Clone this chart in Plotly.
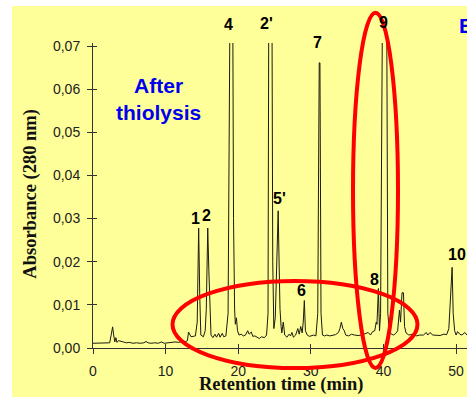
import plotly.graph_objects as go

# Retention time (min) and absorbance (280 nm)
time_min = [
    0.0, 0.5, 1.0, 1.5, 2.0, 2.3, 2.5, 2.7, 2.85, 3.0, 3.15, 3.3, 3.5, 3.8, 4.2, 4.6,
    5.0, 5.5, 6.0, 6.5, 7.0, 7.3, 7.6, 8.0, 8.5, 9.0, 9.4, 9.8, 10.3, 10.8, 11.3, 11.8,
    12.3, 12.8, 13.0, 13.15, 13.3, 13.5, 13.8, 14.1, 14.35, 14.45, 14.55, 14.7, 14.85,
    15.2, 15.45, 15.6, 15.8, 15.95, 16.1, 16.25, 16.5, 16.8, 17.0, 17.3, 17.5, 17.8,
    18.0, 18.3, 18.6, 18.75, 18.85, 19.25, 19.35, 19.5, 19.6, 19.75, 19.9, 20.1, 20.4,
    20.7, 21.0, 21.3, 21.5, 21.8, 22.0, 22.3, 22.6, 22.9, 23.2, 23.6, 23.9, 24.1, 24.2,
    24.65, 24.75, 24.9, 25.1, 25.3, 25.5, 25.6, 25.75, 25.9, 26.0, 26.2, 26.4, 26.7,
    27.0, 27.2, 27.4, 27.6, 27.9, 28.2, 28.4, 28.6, 28.8, 28.95, 29.1, 29.25, 29.5,
    29.8, 30.1, 30.4, 30.7, 30.95, 31.15, 31.25, 31.4, 31.6, 31.9, 32.2, 32.6, 33.0,
    33.4, 33.8, 34.0, 34.2, 34.4, 34.6, 34.8, 35.2, 35.6, 36.0, 36.5, 37.0, 37.5, 37.9,
    38.2, 38.5, 38.8, 39.0, 39.1, 39.3, 39.45, 39.6, 39.85, 40.45, 40.6, 40.8, 41.1,
    41.4, 41.7, 41.95, 42.2, 42.35, 42.55, 42.75, 42.9, 43.1, 43.5, 44.0, 44.5, 45.0,
    45.5, 45.9, 46.1, 46.4, 46.8, 47.3, 47.8, 48.3, 48.7, 49.0, 49.2, 49.45, 49.6,
    49.8, 50.0, 50.2, 50.5, 50.8, 51.2, 51.5,
]
absorbance = [
    0.0011, 0.0011, 0.0011, 0.0011, 0.0011, 0.0012, 0.0030, 0.0049, 0.0030, 0.0014,
    0.0024, 0.0013, 0.0017, 0.0015, 0.0014, 0.0012, 0.0013, 0.0011, 0.0012, 0.0011,
    0.0012, 0.0015, 0.0012, 0.0011, 0.0012, 0.0011, 0.0014, 0.0011, 0.0012, 0.0014,
    0.0014, 0.0013, 0.0015, 0.0015, 0.0017, 0.0037, 0.0033, 0.0026, 0.0027, 0.0028,
    0.0060, 0.0210, 0.0278, 0.0120, 0.0030, 0.0026, 0.0040, 0.0090, 0.0278, 0.0180,
    0.0070, 0.0030, 0.0024, 0.0032, 0.0025, 0.0034, 0.0025, 0.0034, 0.0026, 0.0028,
    0.0080, 0.0500, 0.0760, 0.0760, 0.0300, 0.0090, 0.0055, 0.0070, 0.0040, 0.0030,
    0.0032, 0.0028, 0.0030, 0.0040, 0.0032, 0.0037, 0.0027, 0.0028, 0.0024, 0.0022,
    0.0026, 0.0024, 0.0030, 0.0080, 0.0760, 0.0760, 0.0200, 0.0045, 0.0070, 0.0180,
    0.0318, 0.0220, 0.0090, 0.0050, 0.0035, 0.0060, 0.0030, 0.0025, 0.0032, 0.0028,
    0.0036, 0.0025, 0.0030, 0.0045, 0.0032, 0.0050, 0.0035, 0.0060, 0.0110, 0.0040,
    0.0030, 0.0027, 0.0028, 0.0030, 0.0028, 0.0080, 0.0661, 0.0661, 0.0080, 0.0030,
    0.0028, 0.0030, 0.0028, 0.0030, 0.0031, 0.0036, 0.0045, 0.0060, 0.0045, 0.0040,
    0.0030, 0.0028, 0.0032, 0.0030, 0.0029, 0.0030, 0.0033, 0.0036, 0.0030, 0.0038,
    0.0040, 0.0060, 0.0055, 0.0138, 0.0040, 0.0080, 0.0760, 0.0760, 0.0080, 0.0040,
    0.0032, 0.0030, 0.0034, 0.0040, 0.0088, 0.0060, 0.0128, 0.0128, 0.0050, 0.0035,
    0.0030, 0.0032, 0.0028, 0.0030, 0.0030, 0.0036, 0.0030, 0.0036, 0.0030, 0.0030,
    0.0029, 0.0032, 0.0031, 0.0045, 0.0100, 0.0187, 0.0080, 0.0040, 0.0030, 0.0038,
    0.0032, 0.0030, 0.0036, 0.0030,
]

# Peak labels: text, retention time, vertical label position (paper units)
peak_labels = ["1", "2", "4", "2'", "5'", "6", "7", "8", "9", "10"]
peak_label_time = [14.05, 15.66, 18.64, 23.86, 25.66, 28.75, 30.95, 38.75, 39.99, 50.1]
peak_label_y = [0.423, 0.436, 1.062, 1.065, 0.491, 0.188, 1.001, 0.223, 1.067, 0.305]

x_ticks = [0, 10, 20, 30, 40, 50]
y_ticks = [0.00, 0.01, 0.02, 0.03, 0.04, 0.05, 0.06, 0.07]

X_RANGE = [0, 51.5]
Y_RANGE = [0, 0.0707]

fig = go.Figure()
fig.add_trace(go.Scatter(x=time_min, y=absorbance, mode="lines",
                         line=dict(color="#1a1a10", width=1), showlegend=False,
                         hoverinfo="skip"))
fig.add_trace(go.Scatter(x=[None], y=[None], xaxis="x2", yaxis="y2",
                         showlegend=False, hoverinfo="skip"))

tick_font = dict(family="Liberation Sans, Arial", size=14, color="#222")
title_font = dict(family="Liberation Serif, Times New Roman", size=18.5, color="#111")

annotations = []
for txt, t, yp in zip(peak_labels, peak_label_time, peak_label_y):
    annotations.append(dict(text="<b>%s</b>" % txt, x=t, y=yp, xref="x", yref="paper",
                            xanchor="center", yanchor="middle", showarrow=False,
                            font=dict(family="Liberation Sans, Arial", size=16, color="#000")))
annotations += [
    dict(text="<b>After<br>thiolysis</b>", x=0.174, y=0.816, xref="paper", yref="paper",
         showarrow=False, xanchor="center", yanchor="middle",
         font=dict(family="Liberation Sans, Arial", size=21, color="#0000EE")),
    dict(text="<b>B</b>", x=0.973, y=1.059, xref="paper", yref="paper",
         showarrow=False, xanchor="left", yanchor="middle",
         font=dict(family="Liberation Sans, Arial", size=21, color="#0000EE")),
    dict(text="<b>Retention time (min)</b>", x=0.504, y=-0.12, xref="paper", yref="paper",
         showarrow=False, xanchor="center", yanchor="middle", font=title_font),
    dict(text="<b>Absorbance (280 nm)</b>", x=-0.168, y=0.5065, xref="paper", yref="paper",
         showarrow=False, xanchor="center", yanchor="middle", textangle=-90, font=title_font),
]

shapes = [
    dict(type="rect", xref="paper", yref="paper", x0=-0.2166, x1=1.05, y0=-0.2, y1=1.121,
         fillcolor="#FFFF99", line=dict(width=0), layer="below"),
    dict(type="circle", xref="paper", yref="paper", x0=0.2126, x1=0.8676, y0=-0.0656, y1=0.2197,
         line=dict(color="#FF0000", width=4), layer="above"),
    dict(type="circle", xref="paper", yref="paper", x0=0.6952, x1=0.8155, y0=-0.0656, y1=1.0993,
         line=dict(color="#FF0000", width=4), layer="above"),
]

fig.update_layout(
    width=467, height=397,
    margin=dict(l=93, r=0, t=43, b=49),
    paper_bgcolor="white",
    plot_bgcolor="rgba(0,0,0,0)",
    separators=",.",
    xaxis=dict(range=X_RANGE, tickvals=x_ticks, ticks="outside", ticklen=5, tickcolor="#333",
               showline=True, linecolor="#333", linewidth=1, showgrid=False, zeroline=False,
               tickfont=tick_font, ticklabelstandoff=5),
    yaxis=dict(range=Y_RANGE, tickvals=y_ticks, tickformat=".2f", ticks="outside", ticklen=5,
               tickcolor="#333", showline=True, linecolor="#333", linewidth=1, showgrid=False,
               zeroline=False, tickfont=tick_font, ticklabelstandoff=4),
    xaxis2=dict(range=X_RANGE, tickvals=x_ticks, ticks="inside", ticklen=4, tickcolor="#333",
                overlaying="x", anchor="y2", showticklabels=False, showline=False,
                showgrid=False, zeroline=False),
    yaxis2=dict(range=Y_RANGE, tickvals=y_ticks, ticks="inside", ticklen=4, tickcolor="#333",
                overlaying="y", anchor="x2", side="left", showticklabels=False, showline=False,
                showgrid=False, zeroline=False),
    annotations=annotations,
    shapes=shapes,
)

fig.write_html("out.html")
